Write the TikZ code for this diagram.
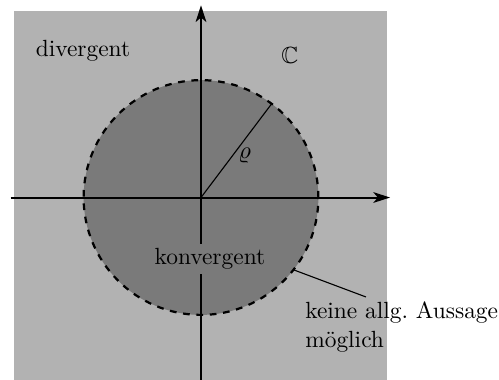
\documentclass[tikz,border=0pt]{standalone}
\usepackage{amssymb}
\usetikzlibrary{positioning,arrows.meta}

\tikzset{
    ebene/.style={fill=black!30},
    scheibe/.style={fill=black!52, draw=black, dashed, line width=1pt},
    achse/.style={-{Stealth[length=7.5pt, width=4.8pt, inset=2pt]}, line width=0.9pt},
    every node/.style={font=\fontsize{10.5}{13}\selectfont},
}

\begin{document}
\begin{tikzpicture}

    % Rahmen (Bildgroesse)
    \useasboundingbox (-3.168,-2.876) rectangle (4.697,3.113);

    % ---------- Ebene C ----------
    \fill[ebene] (-2.95,-3) rectangle (2.93,2.94);

    % ---------- Konvergenzkreis ----------
    \filldraw[scheibe] (0,0) circle (1.85);

    % ---------- Achsen ----------
    \draw[achse] (-3,0) -- (2.98,0);
    \draw[achse] (0,-3) -- (0,3.03);

    % Radius rho
    \coordinate (mitte) at (0,0);
    \coordinate (rand) at (53:1.85);
    \draw[line width=0.5pt] (mitte) -- (rand);
    \node (rho) at (0.69,0.66) {$\varrho$};

    % ---------- Beschriftungen ----------
    \node (div) at (-1.86,2.32) {divergent};
    \node (C) at (1.40,2.24) {$\mathbb{C}$};
    \node[fill=black!52, inner sep=2pt] (konv) at (0.14,-0.97) {konvergent};

    % Rand: keine Aussage
    \node[anchor=west, align=left] (aussage) at (1.52,-2.04)
        {keine allg.\ Aussage\\m\"oglich};
    \coordinate (punkt) at (-38:1.85);
    \draw[line width=0.5pt] (punkt) -- ([xshift=1.08cm, yshift=-0.05cm]aussage.north west);

\end{tikzpicture}
\end{document}
